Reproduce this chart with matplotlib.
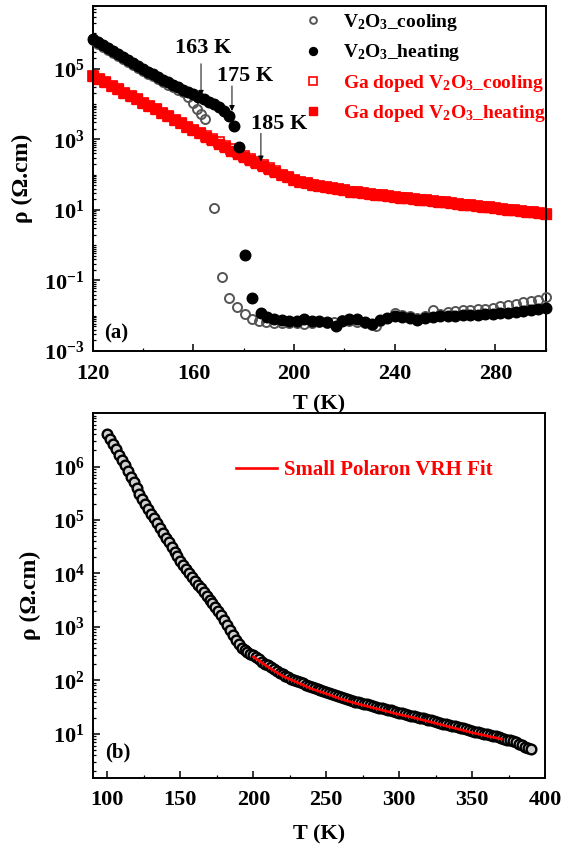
import numpy as np
import matplotlib
matplotlib.use("Agg")
import matplotlib.pyplot as plt
from matplotlib.ticker import FixedLocator, LogLocator, MultipleLocator, LogFormatterSciNotation, NullFormatter

plt.rcParams['font.family'] = ['Liberation Serif', 'DejaVu Serif']
plt.rcParams['font.weight'] = 'bold'
plt.rcParams['mathtext.fontset'] = 'custom'
plt.rcParams['mathtext.rm'] = 'Liberation Serif:bold'
plt.rcParams['mathtext.it'] = 'Liberation Serif:bold:italic'
plt.rcParams['mathtext.bf'] = 'Liberation Serif:bold'
plt.rcParams['mathtext.default'] = 'rm'

# ---- panel (a) data: log10(rho) vs T ----
T_v_cool = [120, 122, 124, 126, 128, 130, 132, 134, 136, 138, 140, 142, 144, 146, 148, 150, 152, 154, 156, 158,
            160, 161.5, 163, 164.5, 168.3, 171.5, 174.3, 177.4, 180.6, 183.4, 186, 189, 192, 195, 198, 201, 204,
            207, 210, 213, 216, 219, 222, 225, 228, 231, 232.5, 234, 237, 240, 243, 246, 249, 252, 255, 258, 261,
            264, 267, 270, 273, 276, 279, 282, 285, 288, 291, 294, 297, 300]
lg_v_cool = [5.80, 5.71, 5.62, 5.53, 5.44, 5.35, 5.27, 5.18, 5.10, 5.01, 4.93, 4.85, 4.78, 4.70, 4.63, 4.55, 4.48,
             4.41, 4.34, 4.20, 4.02, 3.86, 3.72, 3.57, 1.06, -0.91, -1.49, -1.74, -1.95, -2.08, -2.14, -2.18, -2.20,
             -2.20, -2.21, -2.20, -2.22, -2.20, -2.19, -2.20, -2.18, -2.12, -2.16, -2.18, -2.20, -2.27, -2.30, -2.15,
             -2.06, -1.93, -1.97, -2.00, -2.05, -2.00, -1.85, -1.95, -1.90, -1.86, -1.85, -1.84, -1.80, -1.82, -1.78,
             -1.73, -1.70, -1.66, -1.62, -1.58, -1.54, -1.48]

T_v_heat = [120, 122, 124, 126, 128, 130, 132, 134, 136, 138, 140, 142, 144, 146, 148, 150, 152, 154, 156, 158,
            160, 162, 164, 166, 168, 170, 172, 174, 176, 178.2, 180.6, 183.4, 186.9, 189.3, 192, 195, 198, 201,
            204, 207, 210, 213, 216.5, 219, 222, 225, 228, 231, 234, 237, 240, 243, 246, 249, 252, 255, 258, 261,
            264, 267, 270, 273, 276, 279, 282, 285, 288, 291, 294, 297, 300]
lg_v_heat = [5.85, 5.76, 5.67, 5.59, 5.50, 5.41, 5.33, 5.24, 5.16, 5.07, 4.99, 4.91, 4.84, 4.76, 4.69, 4.61, 4.54,
             4.47, 4.40, 4.33, 4.27, 4.21, 4.14, 4.07, 4.00, 3.91, 3.80, 3.67, 3.37, 2.77, -0.29, -1.51, -1.91,
             -2.03, -2.08, -2.12, -2.14, -2.15, -2.08, -2.14, -2.16, -2.17, -2.30, -2.15, -2.10, -2.10, -2.17,
             -2.22, -2.12, -2.06, -2.02, -2.04, -2.05, -2.13, -2.06, -2.03, -2.02, -2.01, -2.00, -1.99, -1.98,
             -1.97, -1.96, -1.95, -1.93, -1.91, -1.89, -1.86, -1.84, -1.81, -1.79]

T_ga = [120, 122.5, 125, 127.5, 130, 132.5, 135, 137.5, 140, 142.5, 145, 147.5, 150, 152.5, 155, 157.5, 160,
        162.5, 165, 167.5, 170, 172.5, 175, 177.5, 180, 182.5, 185, 187.5, 190, 192.5, 195, 197.5, 200, 202.5,
        205, 207.5, 210, 212.5, 215, 217.5, 220, 222.5, 225, 227.5, 230, 232.5, 235, 237.5, 240, 242.5, 245,
        247.5, 250, 252.5, 255, 257.5, 260, 262.5, 265, 267.5, 270, 272.5, 275, 277.5, 280, 282.5, 285, 287.5,
        290, 292.5, 295, 297.5, 300]
lg_ga_cool = [4.80, 4.70, 4.61, 4.51, 4.42, 4.32, 4.23, 4.13, 4.04, 3.94, 3.85, 3.75, 3.65, 3.56, 3.46, 3.36,
              3.27, 3.17, 3.09, 3.00, 2.91, 2.82, 2.72, 2.63, 2.54, 2.45, 2.36, 2.27, 2.18, 2.09, 2.00, 1.92,
              1.85, 1.80, 1.75, 1.71, 1.67, 1.64, 1.61, 1.58, 1.55, 1.52, 1.50, 1.47, 1.45, 1.43, 1.41, 1.39,
              1.37, 1.35, 1.33, 1.31, 1.29, 1.27, 1.25, 1.23, 1.21, 1.19, 1.17, 1.15, 1.13, 1.11, 1.09, 1.07,
              1.05, 1.03, 1.01, 0.99, 0.97, 0.95, 0.93, 0.91, 0.89]
lg_ga_heat = [4.80, 4.70, 4.61, 4.51, 4.42, 4.32, 4.23, 4.13, 4.04, 3.94, 3.85, 3.75, 3.65, 3.56, 3.46, 3.36,
              3.27, 3.17, 3.07, 2.97, 2.87, 2.77, 2.67, 2.58, 2.49, 2.41, 2.33, 2.25, 2.17, 2.08, 2.00, 1.92,
              1.85, 1.80, 1.75, 1.71, 1.67, 1.64, 1.61, 1.58, 1.55, 1.52, 1.50, 1.47, 1.45, 1.43, 1.41, 1.39,
              1.37, 1.35, 1.33, 1.31, 1.29, 1.27, 1.25, 1.23, 1.21, 1.19, 1.17, 1.15, 1.13, 1.11, 1.09, 1.07,
              1.05, 1.03, 1.01, 0.99, 0.97, 0.95, 0.93, 0.91, 0.89]

# transition arrows
arrow_T = [163, 175.3, 186.8]
arrow_tail = [5.14, 4.51, 3.17]
arrow_tip = [4.23, 3.80, 2.37]
arrow_text = ['163 K', '175 K', '185 K']
text_T = [164, 180.5, 194]
text_lg = [5.60, 4.80, 3.43]

# ---- panel (b) data ----
T_b = [100, 102, 104, 106, 108, 110, 112, 114, 116, 118, 120, 122, 124, 126, 128, 130, 132, 134, 136, 138,
       140, 142, 144, 146, 148, 150, 152, 154, 156, 158, 160, 162, 164, 166, 168, 170, 172, 174, 176, 178,
       180, 182, 184, 186, 188, 190, 192, 194, 196, 198, 200, 202, 204, 206, 208, 210, 212, 214, 216, 218,
       220, 222, 224, 226, 228, 230, 232, 234, 236, 238, 240, 242, 244, 246, 248, 250, 252, 254, 256, 258,
       260, 262, 264, 266, 268, 270, 272, 274, 276, 278, 280, 282, 284, 286, 288, 290, 292, 294, 296, 298,
       300, 302, 304, 306, 308, 310, 312, 314, 316, 318, 320, 322, 324, 326, 328, 330, 332, 334, 336, 338,
       340, 342, 344, 346, 348, 350, 352, 354, 356, 358, 360, 362, 364, 366, 368, 370, 372, 374, 376, 378,
       380, 382, 384, 386, 388, 390]
lg_b = [6.60, 6.51, 6.42, 6.32, 6.22, 6.12, 6.02, 5.92, 5.81, 5.71, 5.59, 5.48, 5.39, 5.30, 5.21, 5.12, 5.03,
        4.94, 4.85, 4.76, 4.67, 4.59, 4.50, 4.41, 4.32, 4.24, 4.16, 4.08, 4.00, 3.93, 3.86, 3.79, 3.72, 3.65,
        3.58, 3.51, 3.44, 3.37, 3.30, 3.22, 3.13, 3.03, 2.94, 2.84, 2.75, 2.67, 2.61, 2.57, 2.53, 2.50, 2.47,
        2.43, 2.39, 2.35, 2.31, 2.28, 2.24, 2.21, 2.17, 2.14, 2.11, 2.08, 2.06, 2.03, 2.01, 1.99, 1.96, 1.94,
        1.91, 1.89, 1.87, 1.85, 1.83, 1.81, 1.80, 1.78, 1.76, 1.74, 1.72, 1.70, 1.68, 1.66, 1.65, 1.63, 1.62,
        1.60, 1.59, 1.57, 1.56, 1.55, 1.53, 1.52, 1.50, 1.49, 1.48, 1.46, 1.45, 1.44, 1.42, 1.41, 1.39, 1.38,
        1.37, 1.35, 1.34, 1.33, 1.31, 1.30, 1.29, 1.27, 1.26, 1.25, 1.23, 1.22, 1.21, 1.19, 1.18, 1.17, 1.15,
        1.14, 1.12, 1.11, 1.10, 1.08, 1.07, 1.05, 1.04, 1.03, 1.01, 1.00, 0.99, 0.97, 0.96, 0.95, 0.93, 0.92,
        0.91, 0.89, 0.88, 0.87, 0.84, 0.81, 0.79, 0.76, 0.73, 0.71]

T_fit = [200, 210, 220, 230, 240, 250, 260, 270, 280, 290, 300, 310, 320, 330, 340, 350, 360, 370]
lg_fit = [2.44, 2.25, 2.08, 1.96, 1.84, 1.75, 1.65, 1.57, 1.50, 1.43, 1.36, 1.30, 1.23, 1.16, 1.09, 1.02,
          0.96, 0.90]


def r(lg):
    return 10 ** np.asarray(lg, dtype=float)


def style_axis(ax):
    for s in ax.spines.values():
        s.set_linewidth(1.4)
    ax.tick_params(which='both', direction='in', top=False, right=False, labelsize=16)
    ax.tick_params(which='major', length=5, width=1.1)
    ax.tick_params(which='minor', length=2.5, width=0.9)
    ax.tick_params(axis='x', which='both', pad=9)
    ax.tick_params(axis='y', which='both', pad=6)


fig = plt.figure(figsize=(5.8, 8.5), dpi=100)
ax1 = fig.add_axes([0.160, 0.587, 0.781, 0.406])
ax2 = fig.add_axes([0.160, 0.085, 0.780, 0.429])

# ---- (a) ----
ax1.plot(T_v_cool, r(lg_v_cool), 'o', ms=6.5, mfc='none', mec='#555555', mew=1.4, clip_on=False,
         label='V$_2$O$_3$_cooling', zorder=3)
ax1.plot(T_v_heat, r(lg_v_heat), 'o', ms=7.6, mfc='black', mec='black', clip_on=False,
         label='V$_2$O$_3$_heating', zorder=4)
ax1.plot(T_ga, r(lg_ga_cool), 's', ms=6.8, mfc='white', mec='red', mew=1.2, clip_on=False,
         label='Ga doped V$_2$O$_3$_cooling', zorder=2)
ax1.plot(T_ga, r(lg_ga_heat), 's', ms=6.8, mfc='red', mec='red', clip_on=False,
         label='Ga doped V$_2$O$_3$_heating', zorder=2.5)

for lab, t, lt, lp, tt, tl in zip(arrow_text, arrow_T, arrow_tail, arrow_tip, text_T, text_lg):
    ax1.annotate('', xy=(t, 10 ** lp), xytext=(t, 10 ** lt),
                 arrowprops=dict(arrowstyle='-|>', lw=0.7, color='black', mutation_scale=8,
                                 shrinkA=0, shrinkB=0), zorder=6)
    ax1.text(tt, 10 ** tl, lab, ha='center', va='center', fontsize=16, fontweight='bold', zorder=6)

ax1.set_yscale('log')
ax1.set_xlim(120, 300)
ax1.set_ylim(1e-3, 6e6)
ax1.xaxis.set_major_locator(MultipleLocator(40))
ax1.xaxis.set_minor_locator(MultipleLocator(20))
ax1.yaxis.set_major_locator(FixedLocator([1e-3, 1e-1, 1e1, 1e3, 1e5]))
ax1.yaxis.set_major_formatter(LogFormatterSciNotation())
ax1.yaxis.set_minor_locator(LogLocator(base=10, subs=np.arange(1, 10), numticks=30))
ax1.yaxis.set_minor_formatter(NullFormatter())
style_axis(ax1)
ax1.set_xlabel('T (K)', fontsize=16, fontweight='bold', labelpad=8)
ax1.set_ylabel('ρ (Ω.cm)', fontsize=17, fontweight='bold', labelpad=8)
ax1.text(0.026, 0.052, '(a)', transform=ax1.transAxes, fontsize=15, fontweight='bold', va='center')

leg1 = ax1.legend(loc='upper left', bbox_to_anchor=(0.464, 0.982), frameon=False, fontsize=14,
                  handlelength=1.0, handletextpad=1.05, labelspacing=0.48, borderpad=0, borderaxespad=0,
                  markerscale=0.75)
for txt, c in zip(leg1.get_texts(), ['black', 'black', 'red', 'red']):
    txt.set_color(c)

# ---- (b) ----
ax2.plot(T_b, r(lg_b), 'o', ms=7.0, mfc='#cfcfcf', mec='black', mew=1.7, zorder=3)
ax2.plot(T_fit, r(lg_fit), '-', color='red', lw=1.9, zorder=4, label='Small Polaron VRH Fit')

ax2.set_yscale('log')
ax2.set_xlim(90, 400)
ax2.set_ylim(1.5, 1e7)
ax2.xaxis.set_major_locator(MultipleLocator(50))
ax2.xaxis.set_minor_locator(MultipleLocator(25))
ax2.yaxis.set_major_locator(FixedLocator([1e1, 1e2, 1e3, 1e4, 1e5, 1e6]))
ax2.yaxis.set_major_formatter(LogFormatterSciNotation())
ax2.yaxis.set_minor_locator(LogLocator(base=10, subs=np.arange(2, 10), numticks=30))
ax2.yaxis.set_minor_formatter(NullFormatter())
style_axis(ax2)
ax2.set_xlabel('T (K)', fontsize=16, fontweight='bold', labelpad=10)
ax2.set_ylabel('ρ (Ω.cm)', fontsize=17, fontweight='bold', labelpad=8)
ax2.text(0.027, 0.068, '(b)', transform=ax2.transAxes, fontsize=15, fontweight='bold', va='center')

leg2 = ax2.legend(loc='center left', bbox_to_anchor=(0.316, 0.844), frameon=False, fontsize=15,
                  handlelength=2.0, handletextpad=0.3, borderpad=0, borderaxespad=0)
for txt in leg2.get_texts():
    txt.set_color('red')

fig.savefig('out.png', dpi=100)
